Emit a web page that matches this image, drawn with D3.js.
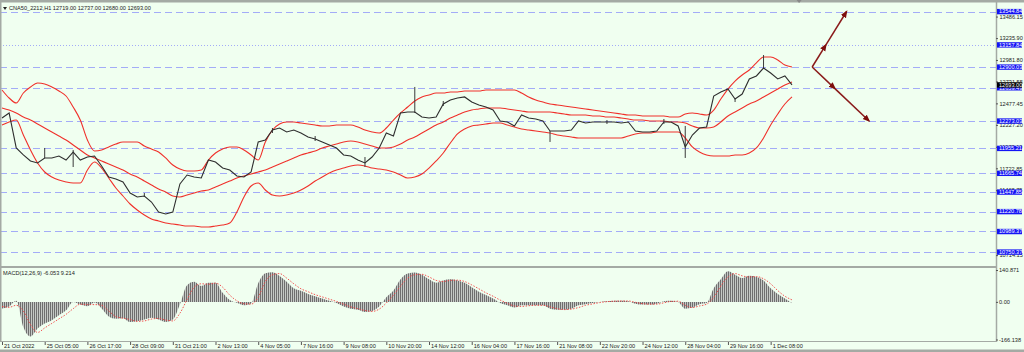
<!DOCTYPE html>
<html><head><meta charset="utf-8">
<script src="https://cdn.jsdelivr.net/npm/d3@7/dist/d3.min.js"></script>
<style>
body{margin:0;background:#f0fff0;}
svg{display:block;font-family:"Liberation Sans",Arial,sans-serif;}
</style></head><body>
<svg id="chart" width="1024" height="352"></svg>
<script>
// one sample every 6 hourly bars
const sampleBars=6;

const closes=[
12307,12366,11959,11878,11808,11785,11843,11843,11866,11819,
11912,11819,11854,11866,11750,11622,11599,11564,11436,11390,
11401,11331,11215,11192,11215,11541,11645,11622,11610,11819,
11796,11726,11703,11634,11622,11680,12029,12052,12168,12191,
12145,12168,12133,12087,12063,12029,11994,11959,11878,11866,
11819,11785,11854,11959,12133,12098,12366,12377,12377,12319,
12307,12319,12470,12517,12540,12552,12493,12459,12435,12400,
12273,12261,12215,12342,12307,12296,12273,12156,12156,12156,
12168,12273,12249,12261,12261,12261,12261,12249,12261,12156,
12145,12145,12156,12261,12261,12215,11971,12110,12191,12203,
12563,12610,12644,12528,12586,12761,12796,12888,12830,12761,
12796,12693];

// [sample, high, low]
const wicks=[[6,11959,11843],[10,11936,11738],[51,11854,11738],[58,12668,12366],
[77,12156,12029],[96,12215,11843],[103,12528,12493],[107,13039,12888],
[20,11436,11390],[38,12191,12133],[44,12098,12040],[62,12505,12447],[85,12284,12238],[93,12296,12238]];

const bbUpper=[
12633,12540,12482,12598,12668,12714,12703,12668,12621,12563,
12435,12284,12052,11924,11936,11971,12005,12029,12029,12029,
11982,11947,11912,11843,11761,11715,11692,11692,11703,11819,
11901,11947,11971,11971,11936,11878,11819,12029,12168,12238,
12261,12261,12249,12238,12226,12215,12215,12226,12226,12226,
12203,12168,12145,12133,12191,12284,12366,12435,12505,12552,
12575,12598,12598,12610,12610,12621,12621,12621,12633,12633,
12633,12633,12633,12598,12552,12517,12493,12470,12459,12447,
12435,12424,12412,12400,12389,12377,12366,12354,12342,12342,
12331,12331,12331,12331,12319,12319,12354,12366,12354,12342,
12400,12528,12644,12737,12807,12865,12947,13016,13016,12981,
12923,12900];

const bbMiddle=[
12424,12400,12366,12319,12284,12238,12191,12145,12098,12052,
11994,11936,11878,11843,11808,11773,11738,11703,11657,11622,
11575,11529,11482,11448,11401,11390,11413,11436,11459,11471,
11506,11541,11575,11610,11634,11657,11680,11703,11738,11773,
11808,11843,11878,11901,11924,11959,11982,12005,12029,12040,
12029,12005,11982,11959,11959,11971,12005,12052,12087,12133,
12180,12226,12261,12307,12342,12377,12400,12412,12424,12424,
12424,12412,12400,12389,12377,12377,12377,12377,12366,12354,
12342,12342,12342,12331,12331,12319,12319,12307,12296,12284,
12284,12273,12273,12273,12261,12261,12249,12215,12191,12191,
12203,12261,12331,12377,12424,12470,12505,12552,12598,12644,
12691,12726];

const bbLower=[
12226,12261,12284,12110,11936,11785,11680,11622,11587,11564,
11552,11552,11703,11796,11726,11610,11494,11401,11308,11238,
11180,11134,11111,11087,11076,11064,11052,11052,11041,11041,
11052,11064,11087,11215,11390,11517,11552,11471,11413,11401,
11413,11436,11471,11517,11575,11622,11668,11703,11726,11750,
11761,11750,11726,11715,11703,11680,11645,11610,11622,11657,
11726,11808,11901,12017,12122,12180,12215,12226,12238,12249,
12249,12226,12203,12180,12168,12156,12145,12133,12110,12098,
12087,12075,12075,12075,12075,12075,12075,12075,12098,12122,
12133,12133,12145,12145,12145,12145,12075,11971,11912,11878,
11866,11866,11866,11878,11878,11901,11959,12075,12226,12354,
12470,12552];

const macd=[
-29,-20,5,-111,-153,-118,-96,-81,-59,-37,
0,-12,-19,-3,-29,-64,-74,-72,-89,-86,
-78,-70,-78,-89,-78,-10,74,89,70,85,
85,40,8,-4,-15,-7,82,126,131,114,
89,60,49,35,25,15,5,-5,-20,-30,
-35,-45,-40,-20,20,50,100,125,130,120,
100,85,95,100,95,85,65,45,30,15,
-5,-15,-25,-15,-15,-15,-15,-30,-35,-35,
-30,-15,-10,-5,0,3,5,5,3,-8,
-12,-12,-8,3,5,0,-30,-25,-10,-5,
60,100,135,120,105,115,110,95,60,35,
15,-6];

const macdSignal=[
-20,-24,-15,-40,-100,-135,-115,-95,-75,-55,
-30,-10,-12,-12,-15,-40,-65,-72,-78,-86,
-84,-76,-73,-80,-84,-50,10,65,80,78,
83,65,30,5,-8,-10,20,90,120,125,
105,80,58,45,32,22,12,2,-10,-22,
-30,-38,-42,-32,-5,30,70,105,120,122,
110,95,90,95,96,90,75,58,40,25,
8,-6,-18,-20,-17,-15,-15,-22,-30,-34,
-32,-25,-15,-9,-3,1,3,4,4,-2,
-8,-10,-10,-4,2,3,-15,-25,-18,-10,
20,70,110,125,115,110,112,102,80,50,
25,9];

const xTickBars=[0,36,72,108,144,180,216,252,288,324,360,396,432,468,504,540,576,612,648];
const xTickLabels=["21 Oct 2022","25 Oct 05:00","26 Oct 17:00","28 Oct 09:00","31 Oct 21:00","2 Nov 13:00",
"4 Nov 05:00","7 Nov 16:00","9 Nov 08:00","10 Nov 20:00","14 Nov 12:00","16 Nov 04:00","17 Nov 16:00",
"21 Nov 08:00","22 Nov 20:00","24 Nov 12:00","28 Nov 04:00","29 Nov 16:00","1 Dec 08:00"];

// price scale labels left visible by the level boxes
const priceTicks=[13486.15,13235.90,12981.80,12731.55,12477.45,12227.20,11973.10,11722.85,11468.75,10714.15];
const levels=[13544.84,13157.84,12900.03,12659.49,12273.03,11955.21,11665.74,11447.85,11220.78,10989.37,10750.37];
const dottedLevel=13157.84;
const lastPrice=12693.00;
const macdTicks=[140.871,0,-166.138];
const macdTickLabels=["140.871","0.00","-166.138"];

// projection arrows: [bar, price]
const arrows=[
  {from:[683,12900.03],to:[712,13544.84]},
  {from:[683,12900.03],to:[731,12273.03]}
];

const header="CNA50_2212,H1  12719.00 12737.00 12680.00 12693.00";
const macdTitle="MACD(12,26,9) -6.053 9.214";

const svg=d3.select("#chart");
const W=1024,plotR=996,mainTop=3,mainBot=266,macdBot=341;
const bg="#f0fff0",frame="#a4aaa4",lvlCol="#a3acf7",bandCol="#f0302a";

svg.append("rect").attr("width",W).attr("height",352).attr("fill",bg);

const x=d3.scaleLinear().domain([0,666]).range([2,792]);
const y=d3.scaleLinear().domain([10587.65,13643.71]).range([mainBot,mainTop]);
const m=d3.scaleLinear().domain([-166.138,140.871]).range([339.5,270]);
const xs=(d,i)=>x(i*sampleBars);

// level lines
svg.append("g").selectAll("line").data(levels).join("line")
  .attr("x1",0).attr("x2",plotR)
  .attr("y1",d=>Math.round(y(d))+0.5).attr("y2",d=>Math.round(y(d))+0.5)
  .attr("stroke",lvlCol).attr("stroke-width",1.2)
  .attr("stroke-dasharray",d=>d===dottedLevel?"1,2":"7,4");

// bollinger bands
[bbUpper,bbMiddle,bbLower].forEach(arr=>{
  svg.append("path").datum(arr)
    .attr("fill","none").attr("stroke",bandCol).attr("stroke-width",1.1)
    .attr("d",d3.line().x(xs).y(d=>y(d)).curve(d3.curveMonotoneX));
});

// price
svg.append("g").selectAll("line").data(wicks).join("line")
  .attr("x1",d=>x(d[0]*sampleBars)).attr("x2",d=>x(d[0]*sampleBars))
  .attr("y1",d=>y(d[1])).attr("y2",d=>y(d[2]))
  .attr("stroke","#3a3a3a").attr("stroke-width",1);
svg.append("path").datum(closes)
  .attr("fill","none").attr("stroke","#2e2e2e").attr("stroke-width",1.1)
  .attr("d",d3.line().x(xs).y(d=>y(d)));

// arrows
const defs=svg.append("defs");
defs.append("marker").attr("id","ah").attr("viewBox","0 0 10 10")
  .attr("refX",8).attr("refY",5).attr("markerWidth",5).attr("markerHeight",5)
  .attr("orient","auto").append("path").attr("d","M0,1L10,5L0,9Z").attr("fill","#7d0d0d");
arrows.forEach(a=>{
  const p0=[x(a.from[0]),y(a.from[1])],p1=[x(a.to[0]),y(a.to[1])];
  const mid=[p0[0]+(p1[0]-p0[0])*0.4,p0[1]+(p1[1]-p0[1])*0.4];
  [[p0,mid],[mid,p1]].forEach(s=>{
    svg.append("line").attr("x1",s[0][0]).attr("y1",s[0][1]).attr("x2",s[1][0]).attr("y2",s[1][1])
      .attr("stroke","#8a1a1a").attr("stroke-width",1.5).attr("marker-end","url(#ah)");
  });
});

// MACD
const pat=defs.append("pattern").attr("id","hist").attr("patternUnits","userSpaceOnUse")
  .attr("width",2).attr("height",4);
pat.append("rect").attr("width",2).attr("height",4).attr("fill","#c4c8c4");
pat.append("rect").attr("width",1).attr("height",4).attr("fill","#6e6e6e");
svg.append("path").datum(macd)
  .attr("fill","url(#hist)")
  .attr("d",d3.area().x(xs).y0(m(0)).y1(d=>m(d)).curve(d3.curveMonotoneX));
svg.append("path").datum(macdSignal)
  .attr("fill","none").attr("stroke","#f04040").attr("stroke-width",0.9).attr("stroke-dasharray","1.5,1.5")
  .attr("d",d3.line().x(xs).y(d=>m(d)).curve(d3.curveMonotoneX));

// frames
svg.append("rect").attr("x",0).attr("y",0).attr("width",W).attr("height",2.5).attr("fill",frame);
svg.append("rect").attr("x",0).attr("y",0).attr("width",1.5).attr("height",341).attr("fill",frame);
svg.append("rect").attr("x",0).attr("y",mainBot).attr("width",plotR).attr("height",2).attr("fill",frame);
svg.append("line").attr("x1",0).attr("x2",plotR).attr("y1",macdBot+0.5).attr("y2",macdBot+0.5).attr("stroke",frame);
svg.append("line").attr("x1",plotR+0.5).attr("x2",plotR+0.5).attr("y1",0).attr("y2",macdBot+1).attr("stroke",frame).attr("stroke-width",1.5);
svg.append("rect").attr("x",0).attr("y",349.5).attr("width",W).attr("height",2.5).attr("fill",frame);

// right price axis
const fs="5.6px";
const yAx=svg.append("g").attr("transform",`translate(${plotR},0)`)
  .call(d3.axisRight(y).tickValues(priceTicks).tickFormat(d3.format(".2f")).tickSize(2).tickPadding(1.5));
yAx.select(".domain").remove();
yAx.selectAll("line").attr("stroke","#555");
yAx.selectAll("text").attr("font-size",fs).attr("fill","#222").attr("font-family","Liberation Sans");

// level labels
const lab=svg.append("g").selectAll("g").data(levels).join("g")
  .attr("transform",d=>`translate(997,${y(d)})`);
lab.append("rect").attr("x",0).attr("y",-2.6).attr("width",25).attr("height",5.4).attr("fill","#1414f5");
lab.append("text").attr("x",2).attr("y",1.9).attr("font-size",fs).attr("fill","#fff").text(d=>d3.format(".2f")(d));
const lp=svg.append("g").attr("transform",`translate(997,${y(lastPrice)})`);
lp.append("rect").attr("x",0).attr("y",-2.6).attr("width",25).attr("height",5.4).attr("fill","#000");
lp.append("text").attr("x",2).attr("y",1.9).attr("font-size",fs).attr("fill","#fff").text(d3.format(".2f")(lastPrice));

// macd axis
const mAx=svg.append("g").attr("transform",`translate(${plotR},0)`)
  .call(d3.axisRight(m).tickValues(macdTicks).tickFormat((d,i)=>macdTickLabels[i]).tickSize(2).tickPadding(1));
mAx.select(".domain").remove();
mAx.selectAll("line").attr("stroke","#555");
mAx.selectAll("text").attr("font-size",fs).attr("fill","#222");

// time axis
const xAx=svg.append("g").attr("transform",`translate(0,${macdBot+1})`)
  .call(d3.axisBottom(x).tickValues(xTickBars).tickFormat((d,i)=>xTickLabels[i]).tickSize(3).tickPadding(-1));
xAx.select(".domain").remove();
xAx.selectAll("line").attr("stroke","#555");
xAx.selectAll("text").attr("font-size",fs).attr("fill","#222").attr("text-anchor","start").attr("dx",1.5);

// titles
svg.append("path").attr("d","M3,7L7,7L5,10Z").attr("fill","#222");
svg.append("text").attr("x",9).attr("y",10).attr("font-size",fs).attr("fill","#222").text(header);
svg.append("text").attr("x",3).attr("y",274.5).attr("font-size",fs).attr("fill","#222").text(macdTitle);
// chart shift marker
svg.append("path").attr("d",`M${x(672)-2.5},0L${x(672)+2.5},0L${x(672)},3Z`).attr("fill","#888");
</script>
</body></html>
